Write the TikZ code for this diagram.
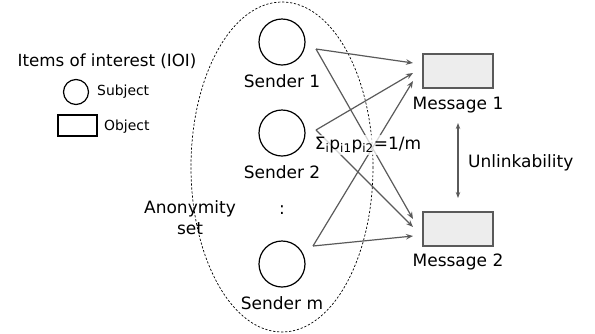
\documentclass[tikz,border=0pt]{standalone}
\usepackage{fontspec}
\setmainfont{DejaVu Sans}
\usetikzlibrary{arrows.meta}
\definecolor{arrowgray}{HTML}{5A5A5A}
\definecolor{boxfill}{HTML}{EDEDED}
\tikzset{
  x=1pt, y=-1pt,
  txt/.style={font=\fontsize{17}{21}\selectfont, inner sep=0pt, align=center},
  smalltxt/.style={font=\fontsize{13.9}{16}\selectfont, inner sep=0pt, anchor=west},
  subj/.style={draw=black, line width=1.2pt, circle, minimum size=46pt, inner sep=0pt},
  msg/.style={draw=arrowgray, line width=1.1pt, fill=boxfill, minimum width=70pt, minimum height=34pt, inner sep=0pt},
  link/.style={draw=arrowgray, line width=1.2pt, -{Stealth[length=7pt,width=5.5pt]}},
}
\begin{document}
\begin{tikzpicture}
\useasboundingbox (0,0) rectangle (595,333);
% anonymity set
\draw[dashed, dash pattern=on 2.2pt off 1.8pt, line width=0.7pt] (282,167) ellipse [x radius=91, y radius=165];
% legend
\node[txt, font=\fontsize{16.7}{20}\selectfont] (ioi) at (107,61) {Items of interest (IOI)};
\node[draw=black, line width=1.2pt, circle, minimum size=25pt, inner sep=0pt] (lc) at (76,92) {};
\node[smalltxt] (lsub) at (97,92) {Subject};
\node[draw=black, line width=1.1pt, minimum width=39pt, minimum height=21pt, inner sep=0pt] (lr) at (77.5,125.5) {};
\node[smalltxt] (lobj) at (104,127) {Object};
% senders
\node[subj] (s1) at (282,42) {};
\node[subj] (s2) at (282,133) {};
\node[subj] (sm) at (282,264) {};
\node[txt] (l1) at (282,81) {Sender 1};
\node[txt] (l2) at (282,172) {Sender 2};
\node[txt] (dots) at (282,210) {:};
\node[txt] (lm) at (282,303) {Sender m};
\node[txt] (anon) at (190,218) {Anonymity\\set};
% messages
\node[msg] (m1) at (458,71) {};
\node[msg] (m2) at (458,229) {};
\node[txt] (lm1) at (458,105) {Message 1};
\node[txt] (lm2) at (458,262) {Message 2};
% arrow endpoints
\coordinate (o1) at (316,49);
\coordinate (o2) at (316,130);
\coordinate (om) at (313,246);
\coordinate (t11) at (413,63);
\coordinate (t21) at (413,73);
\coordinate (tm1) at (413,81);
\coordinate (t12) at (413,219);
\coordinate (t22) at (413,227);
\coordinate (tm2) at (413,236);
\draw[link] (o1) -- (t11);
\draw[link] (o1) -- (t12);
\draw[link] (o2) -- (t21);
\draw[link] (o2) -- (t22);
\draw[link] (om) -- (tm1);
\draw[link] (om) -- (tm2);
% formula
\node[txt, fill=white, fill opacity=0.75, text opacity=1, inner sep=2pt] (f) at (368,145) {Σ\textsubscript{i}p\textsubscript{i1}p\textsubscript{i2}=1/m};
% unlinkability
\coordinate (u1) at (458,123);
\coordinate (u2) at (458,198);
\draw[draw=arrowgray, line width=1.2pt, {Stealth[length=6pt,width=4.5pt]}-{Stealth[length=6pt,width=4.5pt]}] (u1) -- (u2);
\node[txt, anchor=west] (ul) at (468,163) {Unlinkability};
\end{tikzpicture}
\end{document}
